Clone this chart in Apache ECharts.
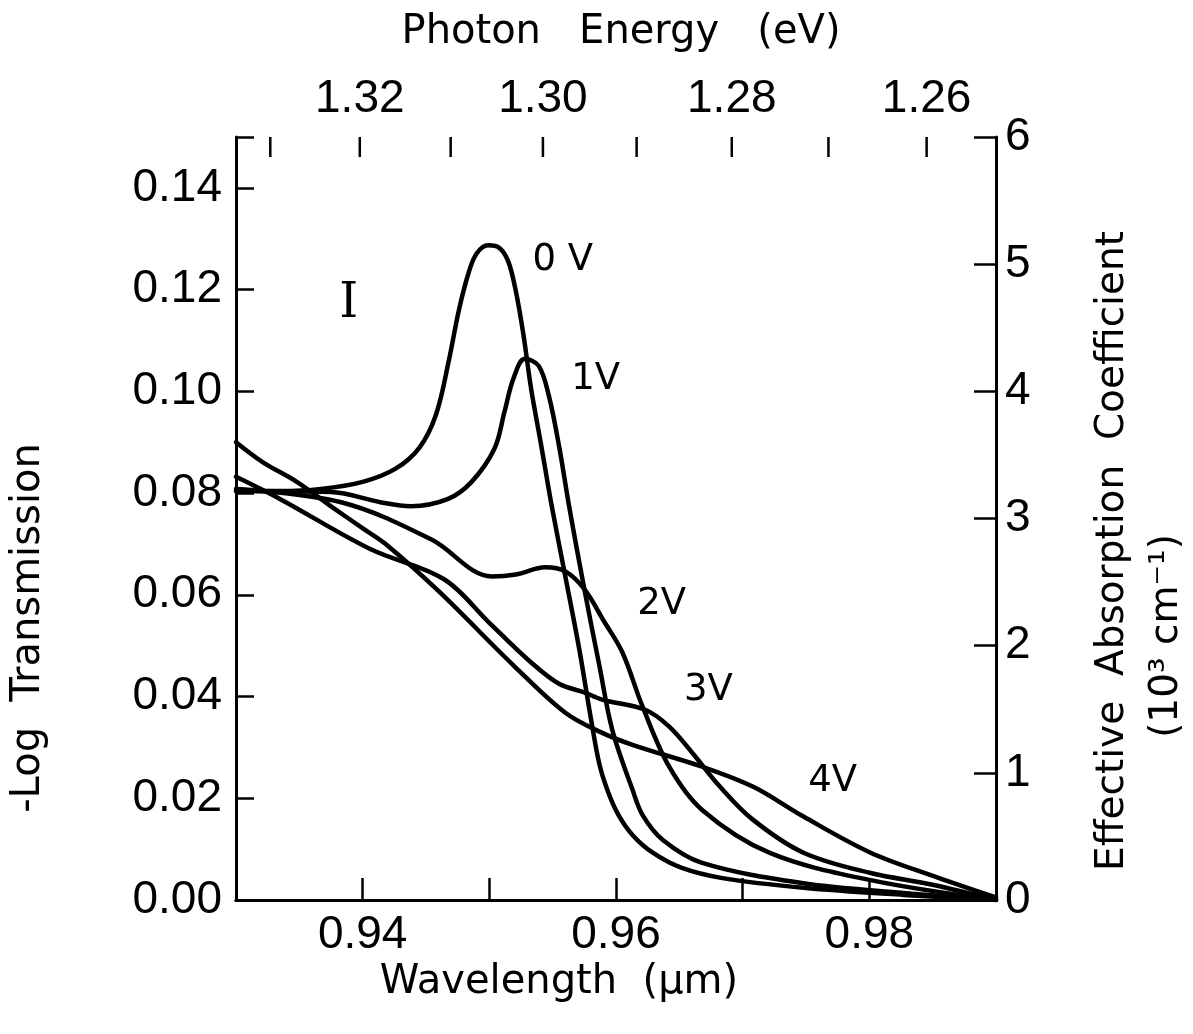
<!DOCTYPE html>
<html>
<head>
<meta charset="utf-8">
<script src="https://cdn.jsdelivr.net/npm/echarts@6/dist/echarts.min.js"></script>
<style>html,body{margin:0;padding:0;background:#fff}#c{width:1193px;height:1034px}</style>
</head>
<body>
<div id="c"></div>
<script>
// ---- data (wavelength in µm, -log transmission) ----
const wl0V  = [0.9300,0.9335,0.9367,0.9400,0.9426,0.9445,0.9458,0.9468,0.9476,0.9484,0.9490,0.9499,0.9508,0.9515,0.9521,0.9527,0.9533,0.9541,0.9549,0.9560,0.9571,0.9581,0.9587,0.9594,0.9602,0.9613,0.9629,0.9652,0.9684,0.9748,0.9827,0.9900];
const val0V = [0.0804,0.0804,0.0808,0.0822,0.0848,0.0890,0.0955,0.1060,0.1160,0.1236,0.1271,0.1287,0.1282,0.1255,0.1196,0.1110,0.1005,0.0893,0.0778,0.0636,0.0493,0.0345,0.0266,0.0211,0.0167,0.0128,0.0093,0.0063,0.0043,0.0024,0.0010,0.0000];
const wl1V  = [0.9300,0.9375,0.9414,0.9438,0.9467,0.9486,0.9504,0.9512,0.9519,0.9528,0.9539,0.9547,0.9555,0.9563,0.9575,0.9587,0.9597,0.9613,0.9621,0.9637,0.9668,0.9748,0.9827,0.9900];
const val1V = [0.0804,0.0802,0.0782,0.0774,0.0788,0.0822,0.0887,0.0960,0.1025,0.1064,0.1050,0.0991,0.0893,0.0774,0.0611,0.0459,0.0335,0.0217,0.0167,0.0118,0.0073,0.0033,0.0014,0.0000];
const wl2V  = [0.9300,0.9383,0.9454,0.9502,0.9521,0.9544,0.9560,0.9575,0.9591,0.9605,0.9621,0.9642,0.9668,0.9721,0.9801,0.9900];
const val2V = [0.0808,0.0782,0.0709,0.0636,0.0640,0.0654,0.0646,0.0611,0.0546,0.0487,0.0380,0.0262,0.0177,0.0093,0.0039,0.0000];
const wl3V  = [0.9300,0.9335,0.9406,0.9464,0.9500,0.9533,0.9555,0.9575,0.9589,0.9623,0.9642,0.9660,0.9682,0.9708,0.9748,0.9801,0.9850,0.9900];
const val3V = [0.0832,0.0788,0.0690,0.0631,0.0545,0.0467,0.0425,0.0408,0.0394,0.0374,0.0341,0.0290,0.0223,0.0158,0.0093,0.0053,0.0030,0.0000];
const wl4V  = [0.9300,0.9321,0.9348,0.9375,0.9401,0.9420,0.9460,0.9520,0.9560,0.9587,0.9613,0.9668,0.9708,0.9748,0.9801,0.9853,0.9900];
const val4V = [0.0900,0.0861,0.0822,0.0774,0.0729,0.0696,0.0607,0.0459,0.0368,0.0331,0.0305,0.0262,0.0223,0.0164,0.0093,0.0045,0.0005];

const seriesNames = ['0 V','1V','2V','3V','4V'];
// label anchors [wavelength, value]
const labelWl  = [0.9558, 0.9584, 0.9636, 0.9673, 0.9771];
const labelVal = [0.1258, 0.1024, 0.0582, 0.0413, 0.0234];
const errorBarWl = 0.9389, errorBarVal = 0.1170;

// axes
const xMin = 0.93, xMax = 0.99, xStep = 0.01;
const yMin = 0, yMax = 0.15, yStep = 0.02;
const y2Min = 0, y2Max = 6, y2Step = 1;
const energyTicks  = [1.33, 1.32, 1.31, 1.30, 1.29, 1.28, 1.27, 1.26];
const energyLabels = ['1.32', '1.30', '1.28', '1.26'];
const HC = 1.2405; // eV·µm (calibrated to the drawn top scale)

const FONT = '"Liberation Sans", Arial, sans-serif';
const TFONT = '"DejaVu Sans", sans-serif';

const curves = [[wl0V,val0V],[wl1V,val1V],[wl2V,val2V],[wl3V,val3V],[wl4V,val4V]];

const chart = echarts.init(document.getElementById('c'), null, {renderer:'canvas'});

const lineSeries = curves.map((c, i) => ({
  name: seriesNames[i],
  type: 'line',
  xAxisIndex: 0, yAxisIndex: 0,
  data: c[0].map((x, k) => [x, c[1][k]]),
  showSymbol: false, symbol: 'none',
  smooth: 0.35,
  lineStyle: {color: '#000', width: 4.5, cap: 'round', join: 'round'},
  clip: true,
  z: 3
}));

const option = {
  animation: false,
  backgroundColor: '#fff',
  grid: {left: 236, right: 197, top: 137, bottom: 134, containLabel: false},
  xAxis: [
    {
      type: 'value', position: 'bottom', min: xMin, max: xMax, interval: xStep,
      axisLine: {show: true, lineStyle: {color: '#000', width: 3}},
      axisTick: {show: true, inside: true, length: 22, lineStyle: {color: '#000', width: 2.5}},
      axisLabel: {
        margin: 12, color: '#000', fontSize: 46, fontFamily: FONT,
        formatter: v => (Math.round(v * 100) % 2 === 0 && v > xMin + 1e-6 && v < xMax - 1e-6) ? v.toFixed(2) : ''
      },
      splitLine: {show: false}
    },
    {
      type: 'value', position: 'top', min: xMin, max: xMax,
      axisLine: {show: true, lineStyle: {color: '#000', width: 3}},
      axisTick: {show: false}, axisLabel: {show: false}, splitLine: {show: false}
    }
  ],
  yAxis: [
    {
      type: 'value', position: 'left', min: yMin, max: yMax, interval: yStep,
      axisLine: {show: true, lineStyle: {color: '#000', width: 3}},
      axisTick: {show: true, inside: true, length: 18, lineStyle: {color: '#000', width: 2.5}},
      axisLabel: {margin: 14, color: '#000', fontSize: 46, fontFamily: FONT,
        formatter: v => v > yMax - 0.005 ? '' : v.toFixed(2)},
      splitLine: {show: false}
    },
    {
      type: 'value', position: 'right', min: y2Min, max: y2Max, interval: y2Step,
      axisLine: {show: true, lineStyle: {color: '#000', width: 3}},
      axisTick: {show: true, inside: true, length: 22, lineStyle: {color: '#000', width: 2.5}},
      axisLabel: {margin: 9, color: '#000', fontSize: 46, fontFamily: FONT, formatter: v => String(v)},
      splitLine: {show: false}
    }
  ],
  graphic: [
    {type: 'text', x: 621, y: 33, style: {text: 'Photon   Energy   (eV)', font: '40px ' + TFONT, fill: '#000', align: 'center', verticalAlign: 'middle'}},
    {type: 'text', x: 559, y: 983, style: {text: 'Wavelength  (μm)', font: '40px ' + TFONT, fill: '#000', align: 'center', verticalAlign: 'middle'}},
    {type: 'text', x: 29, y: 628, rotation: Math.PI / 2, style: {text: '-Log  Transmission', font: '40px ' + TFONT, fill: '#000', align: 'center', verticalAlign: 'middle'}},
    {type: 'text', x: 1113, y: 551, rotation: Math.PI / 2, style: {text: 'Effective  Absorption  Coefficient', font: '39px ' + TFONT, fill: '#000', align: 'center', verticalAlign: 'middle'}},
    {type: 'text', x: 1167, y: 636, rotation: Math.PI / 2, style: {text: '(10³ cm⁻¹)', font: '39px ' + TFONT, fill: '#000', align: 'center', verticalAlign: 'middle'}}
  ],
  series: [
    ...lineSeries,
    {
      // top photon-energy axis ticks and labels, placed through the wavelength scale
      type: 'custom', xAxisIndex: 1, yAxisIndex: 0,
      data: energyTicks.map(e => [HC / e, yMax, e]),
      renderItem: (params, api) => {
        const p = api.coord([api.value(0), api.value(1)]);
        const e = api.value(2);
        const lab = e.toFixed(2);
        const kids = [{type: 'line', shape: {x1: p[0], y1: p[1], x2: p[0], y2: p[1] + 20},
          style: {stroke: '#000', lineWidth: 2.5}}];
        if (energyLabels.indexOf(lab) >= 0) {
          kids.push({type: 'text', style: {text: lab, x: p[0], y: p[1] - 15, align: 'center', verticalAlign: 'bottom',
            font: '46px ' + FONT, fill: '#000'}});
        }
        return {type: 'group', children: kids};
      },
      clip: false, silent: true, z: 5
    },
    {
      // curve labels
      type: 'custom', xAxisIndex: 0, yAxisIndex: 0,
      data: seriesNames.map((n, i) => [labelWl[i], labelVal[i], i]),
      renderItem: (params, api) => {
        const p = api.coord([api.value(0), api.value(1)]);
        const i = api.value(2);
        return {type: 'text', style: {text: seriesNames[i], x: p[0], y: p[1], align: 'center', verticalAlign: 'middle',
          font: '37px ' + TFONT, fill: '#000'}};
      },
      silent: true, z: 5
    },
    {
      // error bar marker
      type: 'custom', xAxisIndex: 0, yAxisIndex: 0,
      data: [[errorBarWl, errorBarVal]],
      renderItem: (params, api) => {
        const p = api.coord([api.value(0), api.value(1)]);
        return {type: 'text', style: {text: 'I', x: p[0], y: p[1], align: 'center', verticalAlign: 'middle',
          font: '48px "DejaVu Serif", serif', fill: '#000'}};
      },
      silent: true, z: 5
    }
  ]
};
chart.setOption(option);
</script>
</body>
</html>
